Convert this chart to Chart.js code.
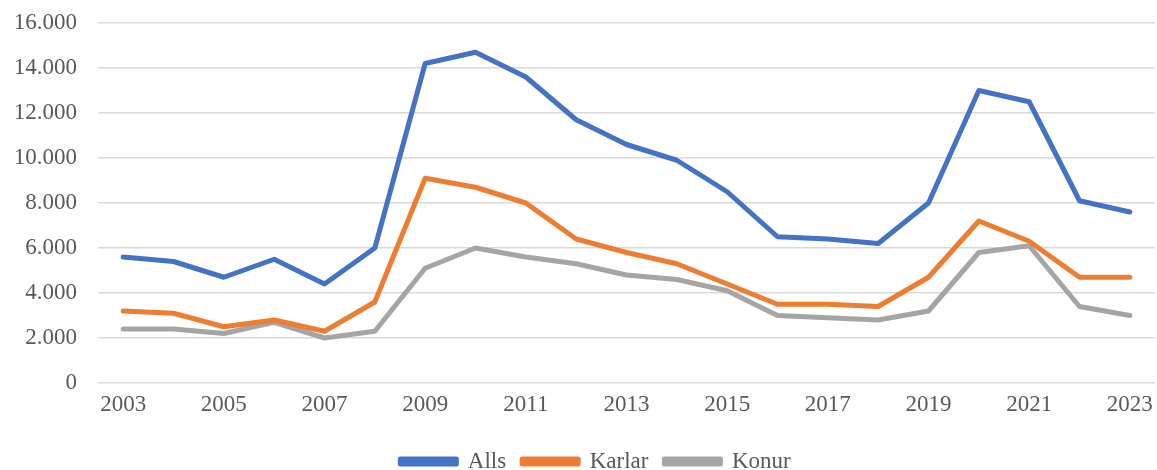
<!DOCTYPE html>
<html>
<head>
<meta charset="utf-8">
<script src="https://cdn.jsdelivr.net/npm/chart.js@4"></script>
<style>
  html, body { margin: 0; padding: 0; background: #fff; overflow: hidden; }
  #wrap { width: 1157px; height: 470px; overflow: hidden; }
  canvas { display: block; }
</style>
</head>
<body>
<div id="wrap"><canvas id="chart" width="1157" height="483"></canvas></div>
<script>
// --- DATA ---
const years = [];
for (let y = 2003; y <= 2023; y++) years.push(String(y));

const alls = [
  5600, 5400, 4700, 5500, 4400, 6000, 14200, 14700, 13600, 11700,
  10600, 9900, 8500, 6500, 6400, 6200, 8000, 13000, 12500, 8100, 7600
];
const karlar = [
  3200, 3100, 2500, 2800, 2300, 3600, 9100, 8700, 8000, 6400,
  5800, 5300, 4400, 3500, 3500, 3400, 4700, 7200, 6300, 4700, 4700
];
const konur = [
  2400, 2400, 2200, 2700, 2000, 2300, 5100, 6000, 5600, 5300,
  4800, 4600, 4100, 3000, 2900, 2800, 3200, 5800, 6100, 3400, 3000
];

const FONT = "'Liberation Serif', 'Times New Roman', serif";
const TXT = '#595959';

function fmt(v) {
  return Math.round(v).toString().replace(/\B(?=(\d{3})+(?!\d))/g, '.');
}

function line(label, data, color) {
  return {
    label, data,
    borderColor: color,
    backgroundColor: color,
    borderWidth: 5,
    pointRadius: 0,
    tension: 0,
    borderCapStyle: 'round',
    borderJoinStyle: 'round'
  };
}

// nudge the legend a bit right, like the original sits
const legendShift = {
  id: 'legendShift',
  afterLayout(chart) {
    chart.legend.left += 18;
    chart.legend.right += 18;
  }
};

// --- CHART ---
new Chart(document.getElementById('chart'), {
  type: 'line',
  data: {
    labels: years,
    datasets: [
      line('Alls', alls, '#4472C4'),
      line('Karlar', karlar, '#ED7D31'),
      line('Konur', konur, '#A5A5A5')
    ]
  },
  plugins: [legendShift],
  options: {
    responsive: false,
    animation: false,
    layout: { padding: { top: 0, right: 2, left: 0, bottom: 0 } },
    plugins: {
      legend: {
        position: 'bottom',
        labels: {
          boxWidth: 56,
          boxHeight: 5,
          padding: 16,
          color: TXT,
          font: { family: FONT, size: 23 }
        }
      },
      tooltip: { enabled: false }
    },
    scales: {
      x: {
        offset: true,
        grid: { display: false, drawTicks: false },
        border: { display: false },
        afterFit: s => { s.height = 51; s.paddingLeft = 0; s.paddingRight = 0; },
        ticks: {
          autoSkip: false,
          maxRotation: 0,
          padding: 8,
          color: TXT,
          font: { family: FONT, size: 23 },
          callback: (v, i) => (i % 2 === 0 ? years[i] : '')
        }
      },
      y: {
        min: 0,
        max: 16000,
        grid: { color: '#D9D9D9', lineWidth: 1.5, drawTicks: false },
        border: { display: false },
        afterFit: s => { s.width = 98; s.paddingTop = 23; s.paddingBottom = 0; },
        ticks: {
          stepSize: 2000,
          padding: 21,
          color: TXT,
          font: { family: FONT, size: 23 },
          callback: v => fmt(v)
        }
      }
    }
  }
});
</script>
</body>
</html>
